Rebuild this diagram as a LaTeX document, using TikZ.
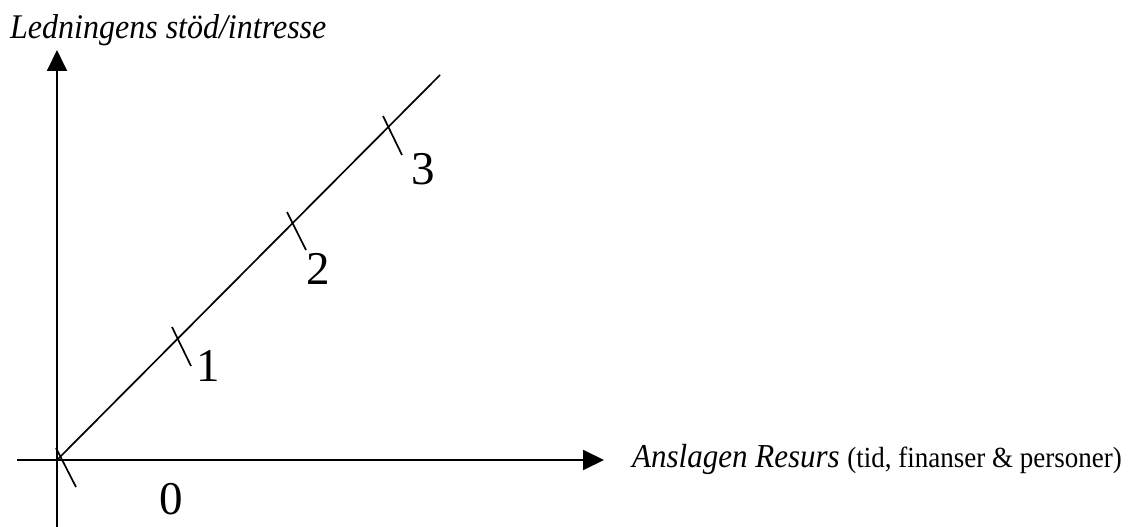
\documentclass[tikz,border=0pt]{standalone}
\usepackage{fontspec}
\setmainfont{Liberation Serif}
\usetikzlibrary{arrows.meta}
\begin{document}
\begin{tikzpicture}[x=1pt,y=-1pt,
  axis/.style={line width=1.9pt,-{Triangle[length=21pt,width=20pt]}},
  ln/.style={line width=1.7pt},
  tick/.style={line width=1.7pt},
  num/.style={inner sep=0pt,font=\fontsize{47}{52}\selectfont},
  lab/.style={inner sep=0pt,anchor=base west}]
\useasboundingbox (0,0) rectangle (1128,527);
\coordinate (ybot) at (57,527);
\coordinate (ytop) at (57,50);
\coordinate (xleft) at (17,460);
\coordinate (xright) at (604,460);
\coordinate (o) at (58,459);
\coordinate (dtop) at (440,75);
\draw[axis] (ybot) -- (ytop);
\draw[axis] (xleft) -- (xright);
\draw[ln] (o) -- (dtop);
% ticks
\coordinate (t0a) at (56,448); \coordinate (t0b) at (76,487);
\coordinate (t1a) at (172,327); \coordinate (t1b) at (191,366);
\coordinate (t2a) at (287,212); \coordinate (t2b) at (306,250);
\coordinate (t3a) at (383,116); \coordinate (t3b) at (402,155);
\draw[tick] (t0a) -- (t0b);
\draw[tick] (t1a) -- (t1b);
\draw[tick] (t2a) -- (t2b);
\draw[tick] (t3a) -- (t3b);
\node[num] (n0) at (171,499) {0};
\node[num] (n1) at (208,366) {1};
\node[num] (n2) at (318,269) {2};
\node[num] (n3) at (423,169) {3};
\node[lab,font=\fontsize{32}{36}\selectfont\itshape,yscale=1.08] (ylab) at (10,39) {Ledningens stöd/intresse};
\node[lab,yscale=1.08] (xlab) at (632,467) {{\fontsize{31}{36}\selectfont\itshape Anslagen Resurs }{\fontsize{27}{32}\selectfont (tid, finanser \& personer)}};
\end{tikzpicture}
\end{document}
